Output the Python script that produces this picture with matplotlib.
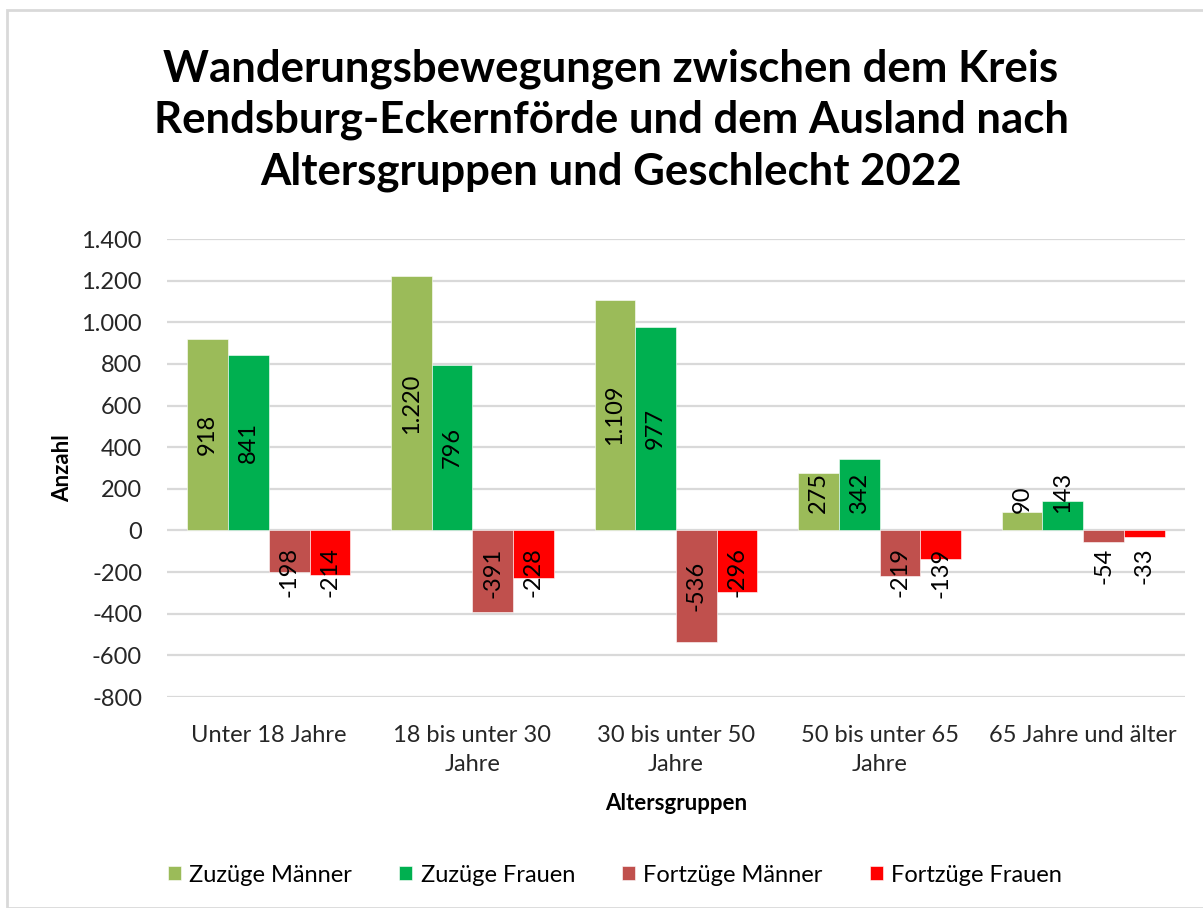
import matplotlib.pyplot as plt
import numpy as np
from matplotlib.patches import Rectangle

categories = ['Unter 18 Jahre', '18 bis unter 30\nJahre', '30 bis unter 50\nJahre',
              '50 bis unter 65\nJahre', '65 Jahre und älter']
series_names = ['Zuzüge Männer', 'Zuzüge Frauen', 'Fortzüge Männer', 'Fortzüge Frauen']
zuzuege_maenner = [918, 1220, 1109, 275, 90]
zuzuege_frauen = [841, 796, 977, 342, 143]
fortzuege_maenner = [-198, -391, -536, -219, -54]
fortzuege_frauen = [-214, -228, -296, -139, -33]
colors = ['#9BBB59', '#00B050', '#C0504D', '#FF0000']

title = ('Wanderungsbewegungen zwischen dem Kreis\n'
         'Rendsburg-Eckernförde und dem Ausland nach\n'
         'Altersgruppen und Geschlecht 2022')

plt.rcParams['font.family'] = ['Lato', 'DejaVu Sans']

def fmt(v):
	s = f'{abs(v):,}'.replace(',', '.')
	return s if v >= 0 else '-' + s

W, H = 1203, 908
fig = plt.figure(figsize=(W/100, H/100), dpi=100)
fig.patches.append(Rectangle((7/W, 0), 1.2, 1 - 10/H, transform=fig.transFigure,
                             fill=False, edgecolor='#D9D9D9', linewidth=2))

ax = fig.add_axes([167/W, 1 - 697/H, (1185-167)/W, (697-239)/H])

x = np.arange(len(categories))
bw = 0.2
data = [zuzuege_maenner, zuzuege_frauen, fortzuege_maenner, fortzuege_frauen]
bars = []
for i, (vals, name, c) in enumerate(zip(data, series_names, colors)):
	b = ax.bar(x + (i - 1.5) * bw, vals, bw, color=c, label=name,
	           edgecolor='white', linewidth=0.4, zorder=3)
	bars.append(b)

ax.set_ylim(-800, 1400)
ax.set_xlim(-0.5, len(categories) - 0.5)
yt = np.arange(-800, 1401, 200)
ax.set_yticks(yt)
ax.set_yticklabels([fmt(v) for v in yt])
ax.set_xticks(x)
ax.set_xticklabels(categories, linespacing=1.5)
ax.grid(axis='y', color='#D9D9D9', linewidth=1.6, zorder=0)
for s in ax.spines.values():
	s.set_visible(False)
ax.tick_params(axis='both', length=0, labelsize=17, labelcolor='#262626')
ax.tick_params(axis='y', pad=18)
ax.tick_params(axis='x', pad=20)

ax.set_ylabel('Anzahl', fontsize=16, fontweight='bold', labelpad=6)
ax.set_xlabel('Altersgruppen', fontsize=16, fontweight='bold', labelpad=13)

fig.text(611/W, 1 - 120/H, title, ha='center', va='center', fontsize=31.5,
         fontweight='bold', linespacing=1.33)

# data labels, rotated; keep them ~17 px off the zero line like Excel does
fig.canvas.draw()
r = fig.canvas.get_renderer()
zero_y = ax.transData.transform((0, 0))[1]
for b, vals in zip(bars, data):
	for rect, v in zip(b, vals):
		cx = rect.get_x() + rect.get_width() / 2
		t = ax.text(cx, v / 2, fmt(v), rotation=90, ha='center', va='center',
		            fontsize=17, color='#000000', zorder=4)
		bb = t.get_window_extent(r)
		cy = (bb.y0 + bb.y1) / 2
		half = (bb.y1 - bb.y0) / 2
		if v >= 0 and bb.y0 < zero_y + 17:
			cy = zero_y + 17 + half
		elif v < 0 and bb.y1 > zero_y - 17:
			cy = zero_y - 17 - half
		t.set_position((cx, ax.transData.inverted().transform((0, cy))[1]))

fig.legend(loc='center', bbox_to_anchor=(615/W, 1 - 875/H), ncol=4, frameon=False,
           fontsize=17, handlelength=0.55, handleheight=0.55, columnspacing=2.0,
           handletextpad=0.35)

fig.savefig('out.png', dpi=100)
